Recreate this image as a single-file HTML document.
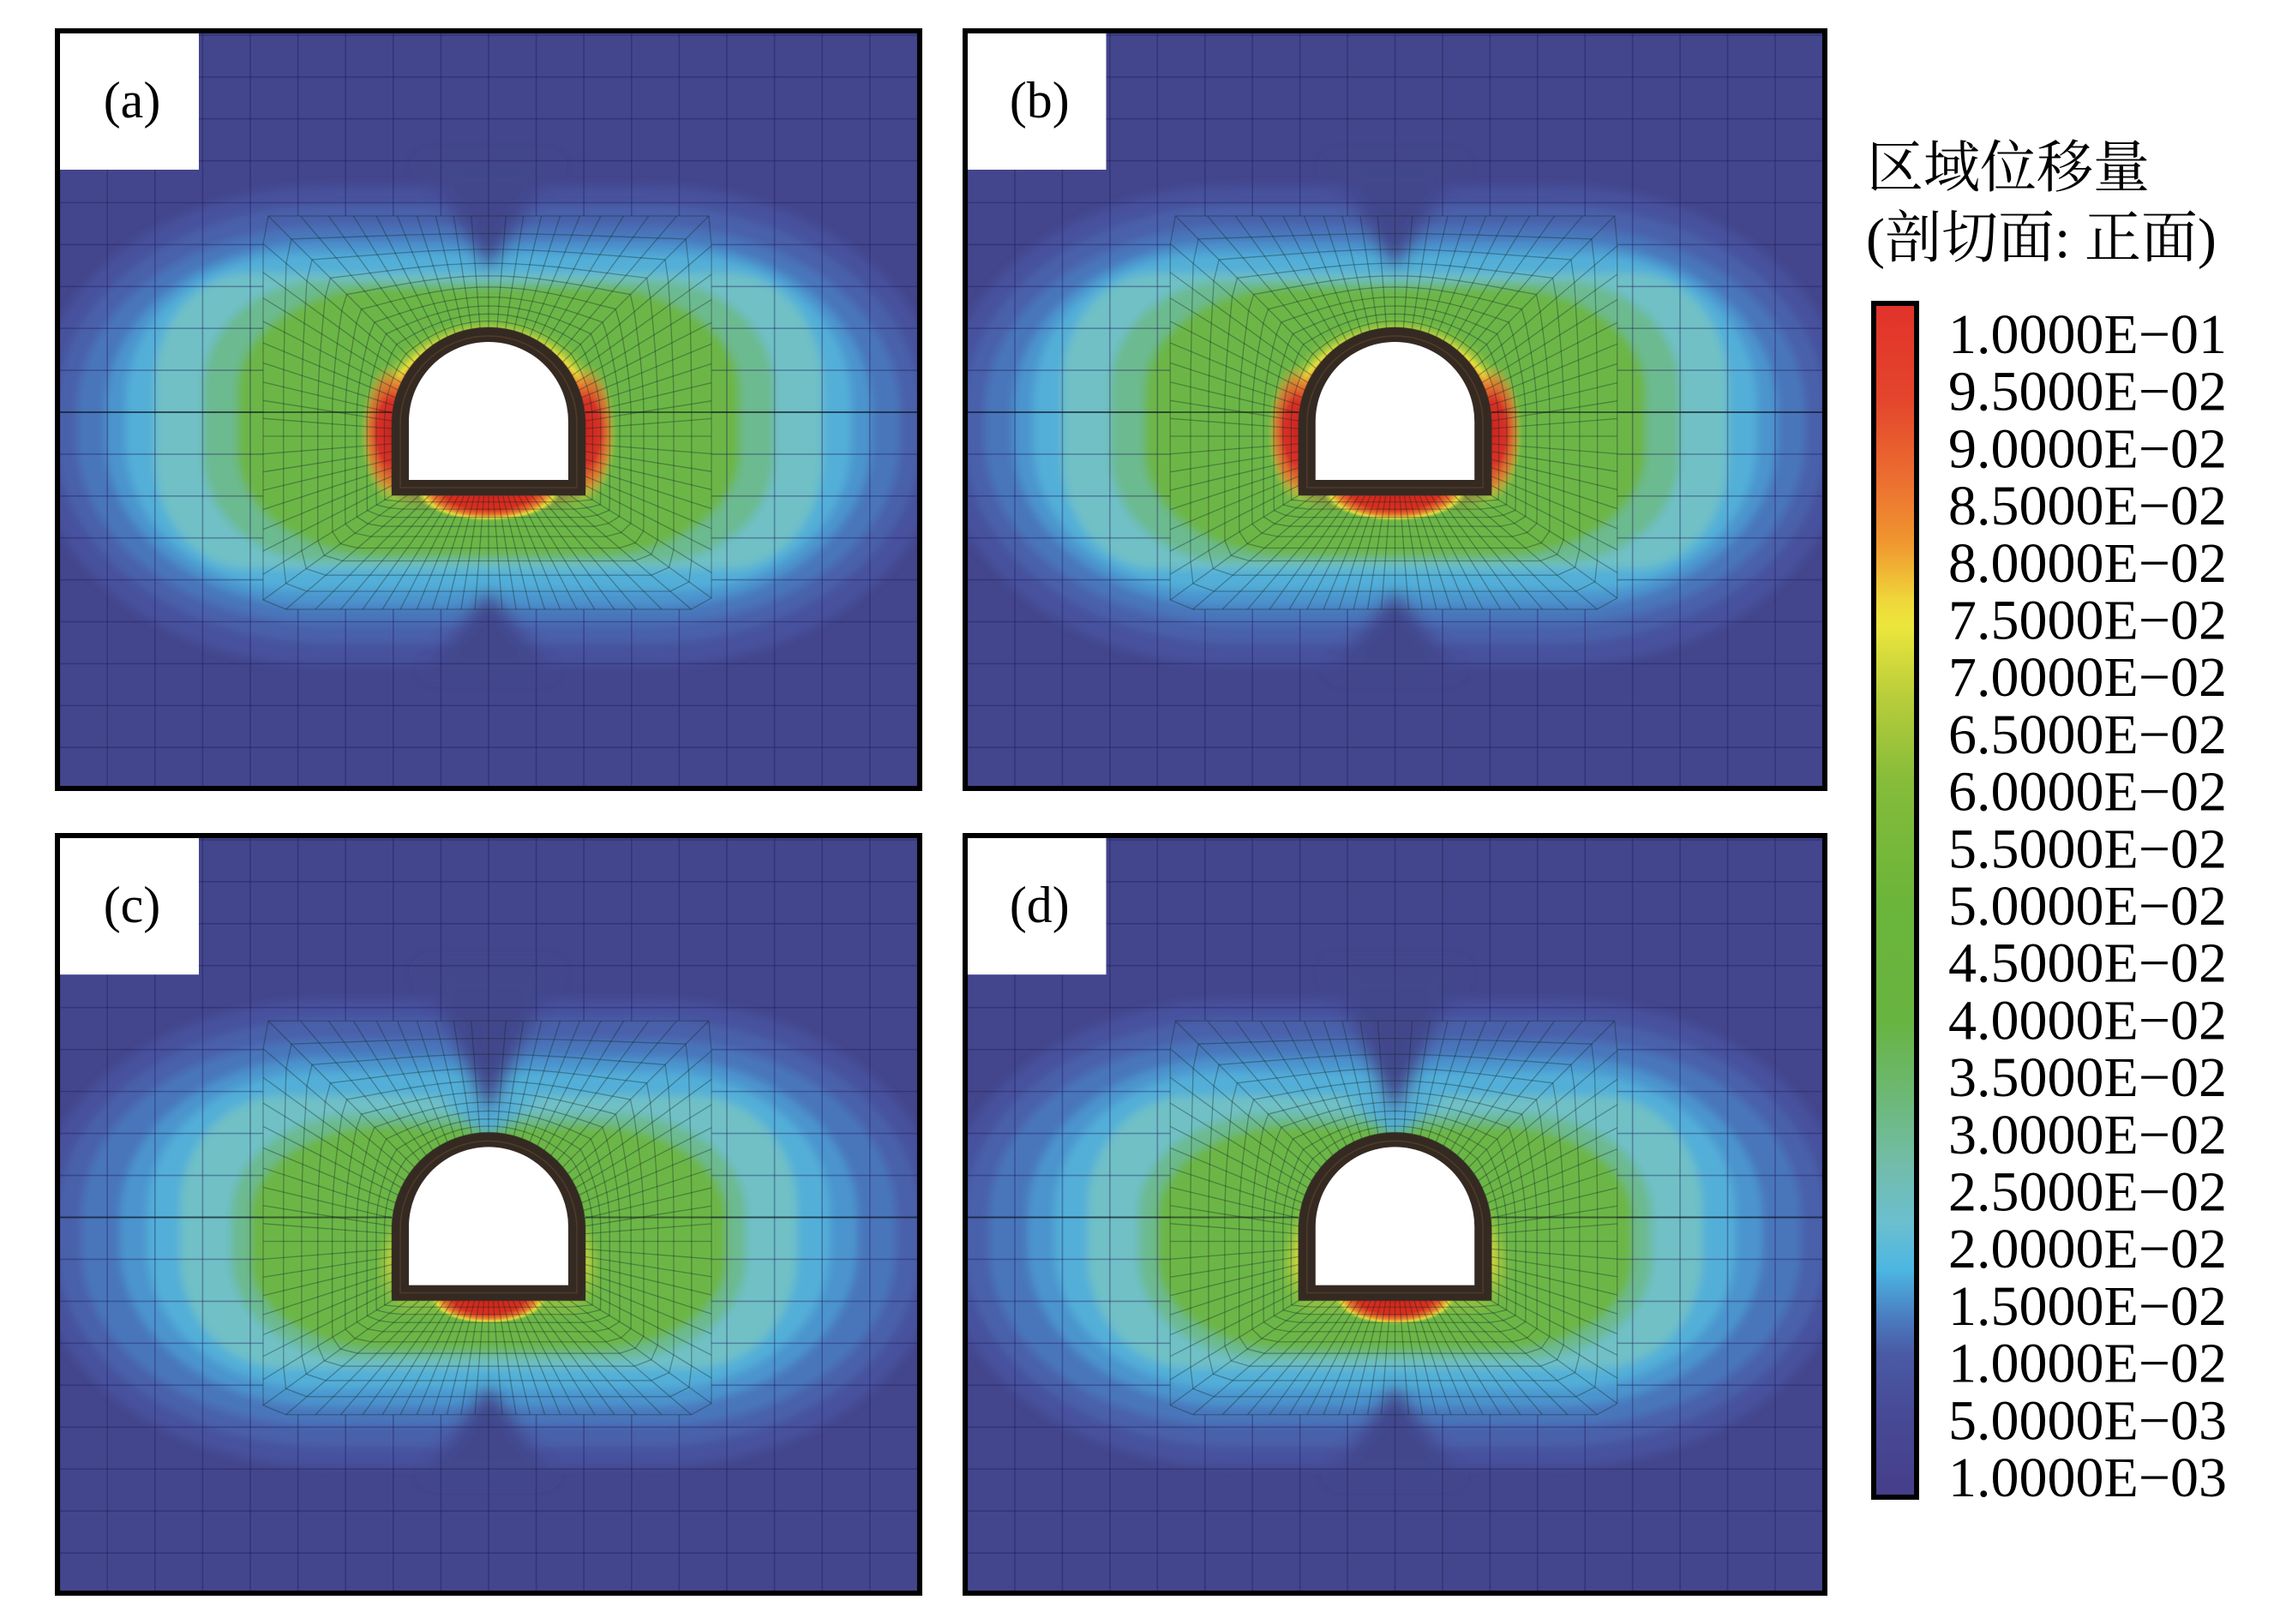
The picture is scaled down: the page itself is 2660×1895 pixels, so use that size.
<!DOCTYPE html>
<html><head><meta charset="utf-8"><style>
html,body{margin:0;padding:0;background:#fff;}
body{width:2660px;height:1890px;overflow:hidden;}
</style></head><body>
<svg xmlns="http://www.w3.org/2000/svg" width="2660" height="1890" viewBox="0 0 2660 1890">
<defs>
<filter id="fb" filterUnits="userSpaceOnUse" x="-100" y="-100" width="1200" height="1100"><feGaussianBlur stdDeviation="5"/></filter>
<filter id="fv" filterUnits="userSpaceOnUse" x="-100" y="-100" width="1200" height="1100"><feGaussianBlur stdDeviation="9"/></filter>
<filter id="fw" filterUnits="userSpaceOnUse" x="-100" y="-100" width="1200" height="1100"><feGaussianBlur stdDeviation="6"/></filter>
<linearGradient id="cbar" x1="0" y1="0" x2="0" y2="1">
<stop offset="0" stop-color="#e2322a"/><stop offset="0.08" stop-color="#e4452c"/><stop offset="0.15" stop-color="#ec7030"/><stop offset="0.2" stop-color="#f0962f"/><stop offset="0.25" stop-color="#efd83a"/><stop offset="0.27" stop-color="#ece63c"/><stop offset="0.33" stop-color="#b8cd3a"/><stop offset="0.4" stop-color="#86bc3a"/><stop offset="0.5" stop-color="#6bb53a"/><stop offset="0.6" stop-color="#68b440"/><stop offset="0.66" stop-color="#6cb872"/><stop offset="0.72" stop-color="#72bca8"/><stop offset="0.77" stop-color="#6bbfcf"/><stop offset="0.81" stop-color="#4cb6e2"/><stop offset="0.85" stop-color="#4a7cc0"/><stop offset="0.88" stop-color="#4a5aa5"/><stop offset="0.93" stop-color="#474a96"/><stop offset="1" stop-color="#463e8a"/>
</linearGradient>
<radialGradient id="ringA" cx="0.5" cy="0.5" r="0.5">
<stop offset="0" stop-color="#d8352a"/><stop offset="0.74" stop-color="#dc402a"/><stop offset="0.8" stop-color="#ea7e30"/><stop offset="0.87" stop-color="#e8dc3c"/><stop offset="0.93" stop-color="#b4cf3e" stop-opacity="0.5"/><stop offset="1" stop-color="#8cc43c" stop-opacity="0"/>
</radialGradient>
<radialGradient id="ringC" cx="0.5" cy="0.5" r="0.5">
<stop offset="0" stop-color="#e6d23c"/><stop offset="0.8" stop-color="#e2d83e"/><stop offset="0.88" stop-color="#c0d23e" stop-opacity="0.7"/><stop offset="1" stop-color="#8cc43c" stop-opacity="0"/>
</radialGradient>
<radialGradient id="wallA" cx="0.5" cy="0.5" r="0.5">
<stop offset="0" stop-color="#cc2520"/><stop offset="0.45" stop-color="#d83226"/><stop offset="0.75" stop-color="#e6702e" stop-opacity="0.7"/><stop offset="1" stop-color="#e8c03a" stop-opacity="0"/>
</radialGradient>
<radialGradient id="floorA" cx="0.5" cy="0.5" r="0.5">
<stop offset="0" stop-color="#d0221c"/><stop offset="0.6" stop-color="#d9301f"/><stop offset="0.78" stop-color="#ea7a2e"/><stop offset="0.9" stop-color="#e6dc3c"/><stop offset="1" stop-color="#a0c83c" stop-opacity="0"/>
</radialGradient>
<linearGradient id="mgrad" gradientUnits="userSpaceOnUse" x1="0" y1="495" x2="0" y2="560"><stop offset="0" stop-color="#fff"/><stop offset="1" stop-color="#000"/></linearGradient>
<mask id="mUp" maskUnits="userSpaceOnUse" x="0" y="0" width="1000" height="878"><rect width="1000" height="878" fill="url(#mgrad)"/></mask>

<g id="bandsA" filter="url(#fb)">
<rect x="-30" y="178" width="1060" height="560" rx="340" ry="265" fill="#47519d"/>
<rect x="-5" y="200" width="1010" height="512" rx="320" ry="240" fill="#4960aa"/>
<rect x="20" y="225" width="960" height="464" rx="290" ry="215" fill="#4a76bb"/>
<rect x="53" y="243" width="894" height="426" rx="250" ry="195" fill="#4b94ce"/>
<rect x="77" y="257" width="846" height="393" rx="200" ry="170" fill="#52afd8"/>
<rect x="110" y="280" width="780" height="345" rx="110" ry="130" fill="#70c0c6"/>
<rect x="167" y="289" width="666" height="328" rx="140" ry="125" fill="#6cba90"/>
<rect x="207" y="296" width="586" height="314" rx="170" ry="120" fill="#6cb646"/>
<polygon points="420,150 580,150 500,274" fill="#43468c" filter="url(#fv)"/>
<polygon points="425,745 575,745 500,652" fill="#43468c" filter="url(#fv)"/>
</g>

<g id="bandsC" filter="url(#fb)">
<rect x="-30" y="188" width="1060" height="545" rx="340" ry="258" fill="#47519d"/>
<rect x="-5" y="210" width="1010" height="500" rx="320" ry="235" fill="#4960aa"/>
<rect x="25" y="235" width="950" height="450" rx="280" ry="205" fill="#4a76bb"/>
<rect x="70" y="255" width="860" height="408" rx="240" ry="185" fill="#4b94ce"/>
<rect x="102" y="272" width="796" height="370" rx="200" ry="160" fill="#52afd8"/>
<rect x="140" y="300" width="720" height="318" rx="120" ry="130" fill="#70c0c6"/>
<rect x="200" y="322" width="600" height="285" rx="150" ry="115" fill="#6cba90"/>
<rect x="222" y="335" width="556" height="262" rx="160" ry="105" fill="#6cb646"/>
<polygon points="440,300 560,300 500,350" fill="#52afd8" filter="url(#fw)"/>
<polygon points="420,150 580,150 500,320" fill="#43468c" filter="url(#fv)"/>
<polygon points="425,745 575,745 500,638" fill="#43468c" filter="url(#fv)"/>
</g>

<g id="hotA">
<ellipse cx="500" cy="475" rx="150" ry="145" fill="url(#ringA)" mask="url(#mUp)"/>
<ellipse cx="385" cy="465" rx="34" ry="80" fill="url(#wallA)"/>
<ellipse cx="615" cy="465" rx="34" ry="80" fill="url(#wallA)"/>
<ellipse cx="500" cy="536" rx="84" ry="33" fill="url(#floorA)"/>
</g>
<g id="hotC">
<ellipse cx="500" cy="505" rx="135" ry="125" fill="url(#ringC)" mask="url(#mUp)"/>
<ellipse cx="500" cy="537" rx="68" ry="29" fill="url(#floorA)"/>
</g>
<g id="hotD">
<ellipse cx="500" cy="500" rx="138" ry="130" fill="url(#ringC)" mask="url(#mUp)"/>
<ellipse cx="500" cy="537" rx="70" ry="30" fill="url(#floorA)"/>
</g>

<g id="mesh"></g>

<g id="tun">
<path d="M387 539 L387 456 A113 113 0 0 1 613 456 L613 539 Z" fill="#352a22"/>
<path d="M397 530 L397 456 A103 103 0 0 1 603 456 L603 530 Z" fill="none" stroke="rgba(110,80,50,0.45)" stroke-width="1.5"/>
<path d="M407 521 L407 453 A93 93 0 0 1 593 453 L593 521 Z" fill="#fff"/>
</g>
</defs>

<!-- panel a -->
<svg x="70" y="39" width="1000" height="878" viewBox="0 0 1000 878" preserveAspectRatio="none">
<rect width="1000" height="878" fill="#43468c"/>
<use href="#bandsA"/><use href="#hotA"/><use href="#mesh"/><use href="#tun"/>
<rect width="162" height="159" fill="#fff"/>
<text x="84" y="98" text-anchor="middle" font-family="'Liberation Serif',serif" font-size="60" fill="#000">(a)</text>
</svg>
<!-- panel b -->
<svg x="1129" y="39" width="997" height="878" viewBox="0 0 1000 878" preserveAspectRatio="none">
<rect width="1000" height="878" fill="#43468c"/>
<use href="#bandsA"/><use href="#hotA"/><use href="#mesh"/><use href="#tun"/>
<rect width="162" height="159" fill="#fff"/>
<text x="84" y="98" text-anchor="middle" font-family="'Liberation Serif',serif" font-size="60" fill="#000">(b)</text>
</svg>
<!-- panel c -->
<svg x="70" y="978" width="1000" height="879" viewBox="0 0 1000 878" preserveAspectRatio="none">
<rect width="1000" height="878" fill="#43468c"/>
<use href="#bandsC"/><use href="#hotC"/><use href="#mesh"/><use href="#tun"/>
<rect width="162" height="159" fill="#fff"/>
<text x="84" y="98" text-anchor="middle" font-family="'Liberation Serif',serif" font-size="60" fill="#000">(c)</text>
</svg>
<!-- panel d -->
<svg x="1129" y="978" width="997" height="879" viewBox="0 0 1000 878" preserveAspectRatio="none">
<rect width="1000" height="878" fill="#43468c"/>
<use href="#bandsC"/><use href="#hotD"/><use href="#mesh"/><use href="#tun"/>
<rect width="162" height="159" fill="#fff"/>
<text x="84" y="98" text-anchor="middle" font-family="'Liberation Serif',serif" font-size="60" fill="#000">(d)</text>
</svg>

<g fill="none" stroke="#000" stroke-width="6">
<rect x="67" y="36" width="1006" height="884"/>
<rect x="1126" y="36" width="1003" height="884"/>
<rect x="67" y="975" width="1006" height="884"/>
<rect x="1126" y="975" width="1003" height="884"/>
</g>

<!-- legend -->
<text x="2178" y="218" font-family="'Liberation Serif','Noto Serif CJK SC',serif" font-size="66" fill="#000">区域位移量</text>
<text x="2177" y="300" font-family="'Liberation Serif','Noto Serif CJK SC',serif" font-size="66" fill="#000">(剖切面: 正面)</text>
<rect x="2186" y="354" width="50" height="1393" fill="url(#cbar)" stroke="#000" stroke-width="6"/>
<g font-family="'Liberation Serif',serif" font-size="66" fill="#000">
<text x="2273" y="412">1.0000E−01</text>
<text x="2273" y="478.7">9.5000E−02</text>
<text x="2273" y="545.4">9.0000E−02</text>
<text x="2273" y="612.1">8.5000E−02</text>
<text x="2273" y="678.8">8.0000E−02</text>
<text x="2273" y="745.5">7.5000E−02</text>
<text x="2273" y="812.2">7.0000E−02</text>
<text x="2273" y="878.9">6.5000E−02</text>
<text x="2273" y="945.6">6.0000E−02</text>
<text x="2273" y="1012.3">5.5000E−02</text>
<text x="2273" y="1079">5.0000E−02</text>
<text x="2273" y="1145.7">4.5000E−02</text>
<text x="2273" y="1212.4">4.0000E−02</text>
<text x="2273" y="1279.1">3.5000E−02</text>
<text x="2273" y="1345.8">3.0000E−02</text>
<text x="2273" y="1412.5">2.5000E−02</text>
<text x="2273" y="1479.2">2.0000E−02</text>
<text x="2273" y="1545.9">1.5000E−02</text>
<text x="2273" y="1612.6">1.0000E−02</text>
<text x="2273" y="1679.3">5.0000E−03</text>
<text x="2273" y="1746">1.0000E−03</text>
</g>
</svg>
<script>
(function(){
var ns="http://www.w3.org/2000/svg";
var g=document.getElementById('mesh');
function pl(pts,closed,stroke,w){
 var p=document.createElementNS(ns,closed?'polygon':'polyline');
 p.setAttribute('points',pts.map(function(q){return q[0].toFixed(1)+','+q[1].toFixed(1);}).join(' '));
 p.setAttribute('fill','none');p.setAttribute('stroke',stroke);p.setAttribute('stroke-width',w);
 g.appendChild(p);
}
var BX0=237,BX1=760,BY0=213,BY1=672,ox=500,oy=470;
var gridC='rgba(30,25,90,0.38)',meshC='rgba(15,40,35,0.36)';
for(var j=-9;j<=9;j++){
 var x=500+j*55.6;
 if(x>BX0&&x<BX1){pl([[x,0],[x,BY0]],false,gridC,1.6);pl([[x,BY1],[x,878]],false,gridC,1.6);}
 else pl([[x,0],[x,878]],false,gridC,1.6);
 var y=442+j*48.9;
 if(y>BY0&&y<BY1){pl([[0,y],[BX0,y]],false,gridC,1.6);pl([[BX1,y],[1000,y]],false,gridC,1.6);}
 else pl([[0,y],[1000,y]],false,gridC,1.6);
}
var N=80,K=10,q=1.12,T=[],B=[];
for(var i=0;i<N;i++){
 var a=2*Math.PI*i/N,dx=Math.cos(a),dy=Math.sin(a);
 var tx=dx>1e-9?(BX1-ox)/dx:(dx<-1e-9?(BX0-ox)/dx:1e9);
 var ty=dy>1e-9?(BY1-oy)/dy:(dy<-1e-9?(BY0-oy)/dy:1e9);
 var t=Math.min(tx,ty);B.push([ox+t*dx,oy+t*dy]);
 var wx=dx>1e-9?(613-ox)/dx:(dx<-1e-9?(387-ox)/dx:1e9);
 var wy=dy>1e-9?(539-oy)/dy:1e9;
 var t1=Math.min(wx,wy),py=oy+t1*dy;
 if(py<456){var c=oy-456,bq=c*dy;t1=-bq+Math.sqrt(bq*bq-c*c+113*113);}
 T.push([ox+t1*dx,oy+t1*dy]);
}
for(var k=0;k<=K;k++){
 var f=(Math.pow(q,k)-1)/(Math.pow(q,K)-1),pts=[];
 for(var i2=0;i2<N;i2++)pts.push([T[i2][0]+f*(B[i2][0]-T[i2][0]),T[i2][1]+f*(B[i2][1]-T[i2][1])]);
 pl(pts,true,meshC,1.3);
}
for(var i3=0;i3<N;i3++)pl([T[i3],B[i3]],false,meshC,1.3);
pl([[0,442],[387,442]],false,'rgba(10,20,20,0.55)',2);
pl([[613,442],[1000,442]],false,'rgba(10,20,20,0.55)',2);
})();
</script>
</body></html>
